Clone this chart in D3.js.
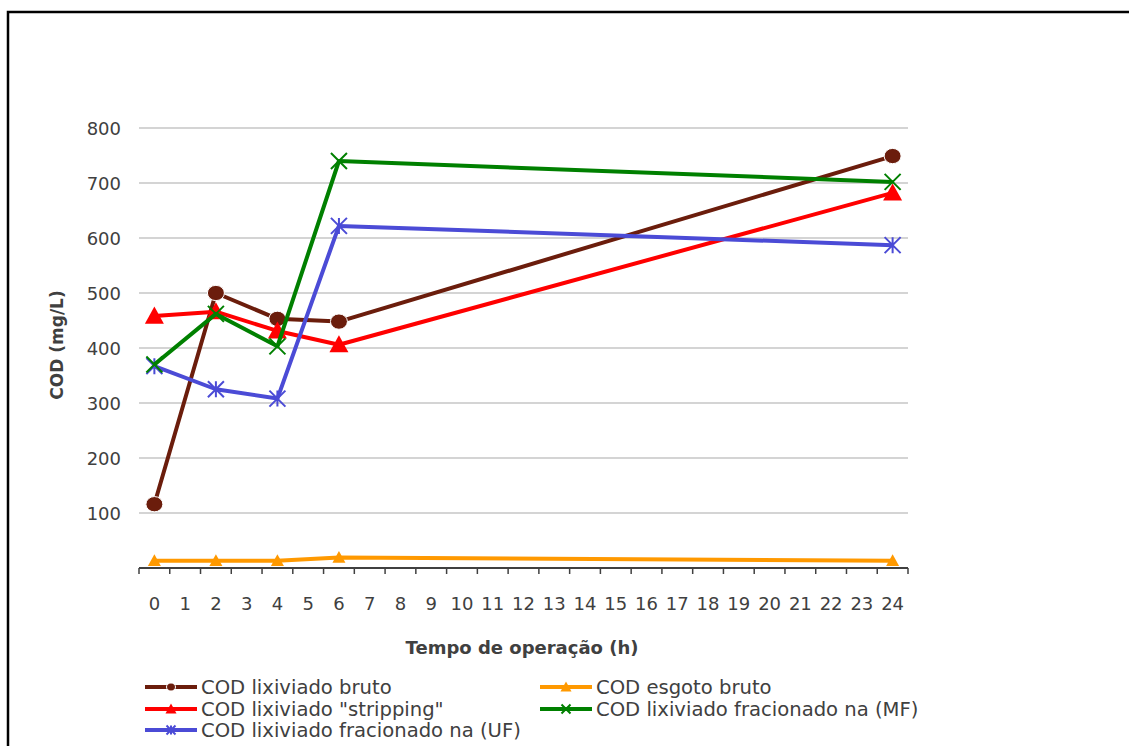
<!DOCTYPE html>
<html>
<head>
<meta charset="utf-8">
<script src="https://cdn.jsdelivr.net/npm/d3@7"></script>
<style>
  html, body { margin: 0; padding: 0; background: #fff; }
  svg { display: block; }
  text { font-family: "DejaVu Sans", Verdana, sans-serif; fill: #404040; }
</style>
</head>
<body>
<svg id="chart" width="1129" height="746"></svg>
<script>
// Hours on the category axis
const hours = d3.range(0, 25).map(String);
// Sampled hours
const sampleHours = ["0", "2", "4", "6", "24"];
// COD (mg/L) per series at the sampled hours
const codBruto      = [116, 500, 453, 448, 749];
const codEsgoto     = [13, 13, 13, 19, 13];
const codStripping  = [458, 466, 431, 406, 682];
const codMF         = [370, 462, 403, 740, 702];
const codUF         = [367, 325, 308, 622, 587];
const yTicks = [100, 200, 300, 400, 500, 600, 700, 800];

const seriesNames = [
  "COD lixiviado bruto",
  "COD esgoto bruto",
  "COD lixiviado \"stripping\"",
  "COD lixiviado fracionado na (MF)",
  "COD lixiviado fracionado na (UF)"
];

const series = [
  { name: seriesNames[0], values: codBruto,     color: "#6B1D0C", marker: "circle",   size: 17 },
  { name: seriesNames[1], values: codEsgoto,    color: "#FF9900", marker: "triangle", size: 13 },
  { name: seriesNames[2], values: codStripping, color: "#FF0000", marker: "triangle", size: 19 },
  { name: seriesNames[3], values: codMF,        color: "#008000", marker: "x",        size: 16 },
  { name: seriesNames[4], values: codUF,        color: "#4B4BD6", marker: "star",     size: 16 }
];

const svg = d3.select("#chart");

// Outer frame
svg.append("path")
  .attr("d", "M8,760 L8,12 L1130,12")
  .attr("fill", "none")
  .attr("stroke", "#000")
  .attr("stroke-width", 2.5);

const plot = { left: 139, right: 908, top: 128, bottom: 568 };

const x = d3.scaleBand().domain(hours).range([plot.left, plot.right]).padding(0);
const y = d3.scaleLinear().domain([0, 800]).range([plot.bottom, plot.top]);
const cx = h => x(h) + x.bandwidth() / 2;

// Gridlines
svg.append("g")
  .selectAll("line")
  .data(yTicks)
  .join("line")
  .attr("x1", plot.left).attr("x2", plot.right)
  .attr("y1", d => y(d)).attr("y2", d => y(d))
  .attr("stroke", "#c6c6c6")
  .attr("stroke-width", 1.3);

// Y axis labels
const yAxis = d3.axisLeft(y).tickValues(yTicks).tickSize(0).tickPadding(18);
const gy = svg.append("g").attr("transform", `translate(${plot.left},0)`).call(yAxis);
gy.select(".domain").remove();
gy.selectAll("text")
  .style("font-size", "18px")
  .style("font-family", "'DejaVu Sans', Verdana, sans-serif")
  .attr("fill", "#404040")
  .attr("dy", "0.36em");

// X axis: ticks between categories
const gx = svg.append("g").attr("transform", `translate(0,${plot.bottom})`);
gx.append("line")
  .attr("x1", plot.left).attr("x2", plot.right)
  .attr("stroke", "#404040").attr("stroke-width", 2);
const boundaries = hours.map(h => x(h)).concat([plot.right]);
gx.selectAll("line.tick")
  .data(boundaries)
  .join("line")
  .attr("class", "tick")
  .attr("x1", d => d).attr("x2", d => d)
  .attr("y1", 0).attr("y2", 6)
  .attr("stroke", "#404040").attr("stroke-width", 1.5);
gx.selectAll("text")
  .data(hours)
  .join("text")
  .attr("x", d => cx(d))
  .attr("y", 42)
  .attr("text-anchor", "middle")
  .style("font-size", "18px")
  .text(d => d);

// Axis titles
svg.append("text")
  .attr("x", 522)
  .attr("y", 654)
  .attr("text-anchor", "middle")
  .style("font-size", "18px")
  .style("font-weight", "bold")
  .text("Tempo de operação (h)");

svg.append("text")
  .attr("transform", `translate(63,345) rotate(-90)`)
  .attr("text-anchor", "middle")
  .style("font-size", "17px")
  .style("font-weight", "bold")
  .text("COD (mg/L)");

// Marker drawing
function drawMarker(g, type, size, color) {
  const r = size / 2;
  if (type === "circle") {
    g.append("ellipse").attr("rx", r).attr("ry", r * 0.9)
      .attr("fill", color).attr("stroke", "#fff").attr("stroke-width", 1);
  } else if (type === "triangle") {
    g.append("path")
      .attr("d", `M0,${-r} L${r},${r * 0.8} L${-r},${r * 0.8} Z`)
      .attr("fill", color);
  } else if (type === "x") {
    g.append("path")
      .attr("d", `M${-r},${-r} L${r},${r} M${-r},${r} L${r},${-r}`)
      .attr("stroke", color).attr("stroke-width", 2).attr("fill", "none");
  } else if (type === "star") {
    g.append("path")
      .attr("d", `M${-r},${-r} L${r},${r} M${-r},${r} L${r},${-r} M0,${-r} L0,${r}`)
      .attr("stroke", color).attr("stroke-width", 2).attr("fill", "none");
  }
}

const line = d3.line().x(d => cx(d.h)).y(d => y(d.v));

// Series lines and markers (drawn back-to-front)
const drawOrder = [1, 0, 2, 4, 3];
drawOrder.forEach(i => {
  const s = series[i];
  const pts = sampleHours.map((h, k) => ({ h, v: s.values[k] }));
  const g = svg.append("g");
  g.append("path")
    .datum(pts)
    .attr("d", line)
    .attr("fill", "none")
    .attr("stroke", s.color)
    .attr("stroke-width", 4)
    .attr("stroke-linejoin", "round");
  pts.forEach(p => {
    const m = g.append("g").attr("transform", `translate(${cx(p.h)},${y(p.v)})`);
    drawMarker(m, s.marker, s.size, s.color);
  });
});

// Legend
const legendPos = [
  { x: 145, y: 687 },
  { x: 540, y: 687 },
  { x: 145, y: 709 },
  { x: 540, y: 709 },
  { x: 145, y: 730 }
];
series.forEach((s, i) => {
  const p = legendPos[i];
  const g = svg.append("g").attr("transform", `translate(${p.x},${p.y})`);
  g.append("line").attr("x1", 0).attr("x2", 52)
    .attr("stroke", s.color).attr("stroke-width", 4);
  const m = g.append("g").attr("transform", "translate(26,0)");
  drawMarker(m, s.marker, s.marker === "circle" ? 9 : (s.marker === "triangle" ? 11 : 9), s.color);
  g.append("text")
    .attr("x", 56).attr("y", 0).attr("dy", "0.36em")
    .style("font-size", "19.6px")
    .text(s.name);
});
</script>
</body>
</html>
